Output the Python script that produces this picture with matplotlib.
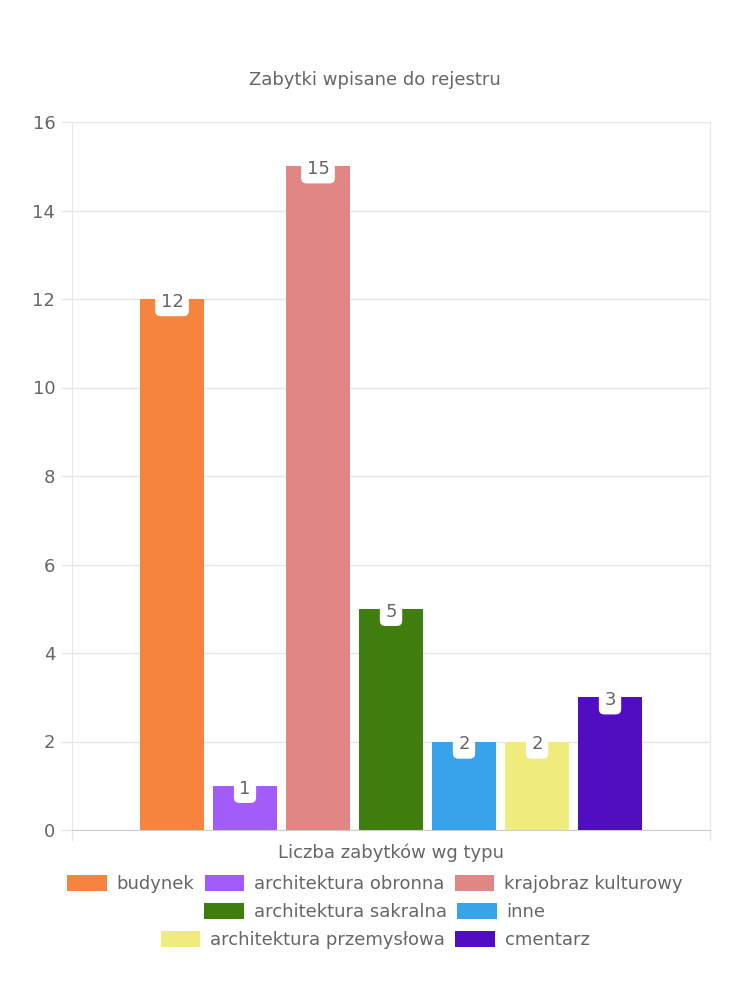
import matplotlib
matplotlib.use('Agg')
import matplotlib.pyplot as plt
import numpy as np

# data
categories = ["budynek", "architektura obronna", "krajobraz kulturowy",
              "architektura sakralna", "inne", "architektura przemysłowa", "cmentarz"]
values = [12, 1, 15, 5, 2, 2, 3]
colors = ["#f5843f", "#a25cfa", "#e18585", "#3e7d0e", "#38a3ea", "#f0eb7d", "#510dc1"]
yticks = [0, 2, 4, 6, 8, 10, 12, 14, 16]
legend_rows = [[0, 1, 2], [3, 4], [5, 6]]

plt.rcParams['font.family'] = ['DejaVu Sans']
txt = "#666666"
grid_c = "#e6e6e6"
fs = 13

fig = plt.figure(figsize=(7.5, 10), dpi=100)
ax = fig.add_axes([0.096, 0.17, 0.8507, 0.708])

pos = np.arange(len(values))
bars = ax.bar(pos, values, width=0.89, color=colors, zorder=3)

for p, v in zip(pos, values):
    ax.annotate(str(v), (p, v), xytext=(0, -2), textcoords='offset points',
                ha='center', va='center', fontsize=fs, color=txt, zorder=4,
                bbox=dict(boxstyle='round,pad=0.3,rounding_size=0.3',
                          fc='white', ec='none'))

ax.set_ylim(0, 16)
ax.set_yticks(yticks)
half = 4.37
ax.set_xlim(3 - half, 3 + half)
ax.set_xticks([3 - half, 3 + half])
ax.set_xticklabels([])
ax.tick_params(axis='x', length=8, color=grid_c, width=1)
ax.tick_params(axis='y', length=8, color=grid_c, width=1, labelsize=fs,
               labelcolor=txt, pad=4)
ax.grid(axis='y', color=grid_c, lw=1, zorder=0)
for s in ['left', 'right', 'top']:
    ax.spines[s].set_color(grid_c)
ax.spines['top'].set_visible(False)
ax.spines['bottom'].set_color('#cccccc')

ax.set_xlabel("Liczba zabytków wg typu", fontsize=fs, color=txt, labelpad=-2)
fig.text(0.5, 0.92, "Zabytki wpisane do rejestru", ha='center', va='center',
         fontsize=fs, color=txt)

ys = [0.116, 0.088, 0.060]
for row, y in zip(legend_rows, ys):
    leg = fig.legend([bars[i] for i in row], [categories[i] for i in row],
                     loc='center', bbox_to_anchor=(0.5, y), ncol=len(row),
                     frameon=False, fontsize=fs, handlelength=2.2,
                     handleheight=1.0, handletextpad=0.55, columnspacing=0.55,
                     borderpad=0, borderaxespad=0)
    for t in leg.get_texts():
        t.set_color(txt)

fig.savefig("out.png", dpi=100, facecolor='white')
